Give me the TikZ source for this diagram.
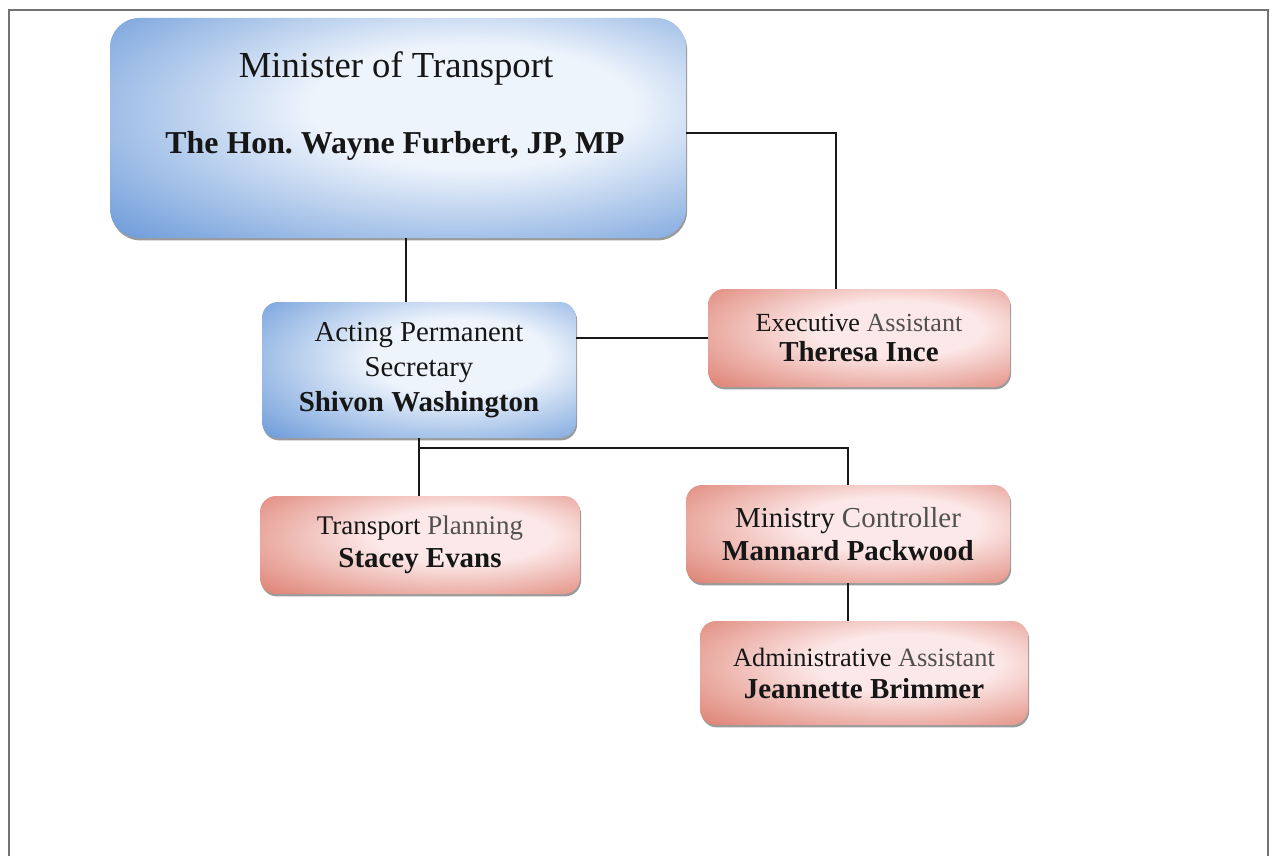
\documentclass[tikz,border=0pt]{standalone}
\usepackage{fontspec}
\setmainfont{Liberation Serif}
\usetikzlibrary{shadows,calc}
\definecolor{blueOut}{RGB}{66,126,206}
\definecolor{blueIn}{RGB}{238,244,252}
\definecolor{redOut}{RGB}{212,96,76}
\definecolor{redIn}{RGB}{252,232,232}
\definecolor{txt}{RGB}{22,22,22}
\definecolor{txtlight}{RGB}{80,80,80}
\pgfdeclareradialshading{boxblue}{\pgfpoint{8bp}{6bp}}{color(0bp)=(blueIn); color(14bp)=(blueIn); color(48bp)=(blueOut); color(72bp)=(blueOut)}
\pgfdeclareradialshading{boxred}{\pgfpoint{8bp}{6bp}}{color(0bp)=(redIn); color(14bp)=(redIn); color(48bp)=(redOut); color(72bp)=(redOut)}
\newcommand{\nm}[1]{{\fontsize{21.7}{24}\selectfont\bfseries #1}}
\begin{document}
\frenchspacing
\begin{tikzpicture}[x=0.75pt,y=-0.75pt,
  orgbox/.style={inner sep=0pt, align=center, text=txt,
    drop shadow={shadow xshift=0.8pt, shadow yshift=-1.8pt, opacity=0.6, fill=black!65}},
  bluebox/.style={orgbox, shading=boxblue},
  redbox/.style={orgbox, shading=boxred},
  small/.style={rounded corners=12pt},
  conn/.style={line width=1.2pt, black!90},
  frame/.style={line width=1.3pt, black!55}]
\useasboundingbox (0,0) rectangle (1274,856);
\draw[frame] (9,860) -- (9,10) -- (1268,10) -- (1268,860);

% Minister
\node[bluebox, rounded corners=22pt, minimum width=432pt, minimum height=165pt] (min) at (398,128) {};
\node[text=txt, font=\fontsize{27.5}{32}\selectfont, inner sep=0pt] (mint) at (396,68) {Minister of Transport};
\node[text=txt, font=\fontsize{23.9}{28}\selectfont\bfseries, inner sep=0pt] (minn) at (395,146) {The Hon. Wayne Furbert, JP, MP};

% Acting Permanent Secretary
\node[bluebox, small, font=\fontsize{21.6}{26}\selectfont, minimum width=235.5pt, minimum height=102pt] (aps) at (419,370)
  {Acting Permanent\\Secretary\\\nm{Shivon Washington}};

% Executive Assistant
\node[redbox, small, font=\fontsize{19.6}{23}\selectfont, minimum width=226.5pt, minimum height=73.5pt] (ea) at (859,338)
  {Executive \textcolor{txtlight}{Assistant}\\\nm{Theresa Ince}};

% Transport Planning
\node[redbox, small, font=\fontsize{20.2}{24.5}\selectfont, minimum width=240pt, minimum height=73.5pt] (tp) at (420,545)
  {Transport \textcolor{txtlight}{Planning}\\\nm{Stacey Evans}};

% Ministry Controller
\node[redbox, small, font=\fontsize{21.7}{24.75}\selectfont, minimum width=243pt, minimum height=73.5pt] (mc) at (848,534)
  {Ministry \textcolor{txtlight}{Controller}\\\nm{Mannard Packwood}};

% Administrative Assistant
\node[redbox, small, font=\fontsize{19.8}{24}\selectfont, minimum width=246pt, minimum height=78pt] (aa) at (864,673)
  {Administrative \textcolor{txtlight}{Assistant}\\\nm{Jeannette Brimmer}};

% connectors
\draw[conn] ([xshift=-9.75pt]aps.north) -- ([xshift=-9.75pt]aps.north |- min.south);
\draw[conn] ([yshift=-3.75pt]min.east) -| ([xshift=-17.25pt]ea.north);
\draw[conn] (ea.west) -- (ea.west -| aps.east);
\draw[conn] (aps.south) -- (aps.south |- tp.north);
\draw[conn] (aps.south) ++(0,10) -| (mc.north);
\draw[conn] (mc.south) -- (mc.south |- aa.north);
\end{tikzpicture}
\end{document}
